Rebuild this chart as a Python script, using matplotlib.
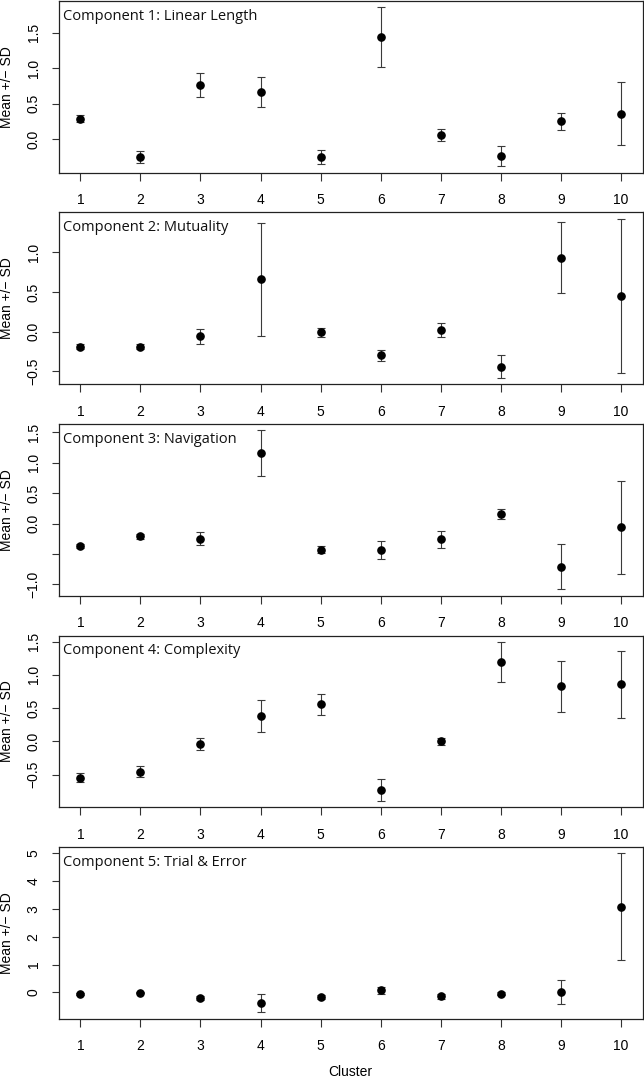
#!/usr/bin/env python3
import matplotlib

matplotlib.use("Agg")
import matplotlib.pyplot as plt

CLUSTERS = [1, 2, 3, 4, 5, 6, 7, 8, 9, 10]

TITLES = [
    "Component 1: Linear Length",
    "Component 2: Mutuality",
    "Component 3: Navigation",
    "Component 4: Complexity",
    "Component 5: Trial & Error",
]

MEAN_1 = [0.29, -0.25, 0.77, 0.67, -0.25, 1.44, 0.06, -0.24, 0.25, 0.36]
SD_1 = [0.05, 0.08, 0.17, 0.21, 0.10, 0.42, 0.08, 0.14, 0.12, 0.44]

MEAN_2 = [-0.19, -0.19, -0.06, 0.66, -0.01, -0.30, 0.02, -0.44, 0.93, 0.45]
SD_2 = [0.035, 0.03, 0.09, 0.71, 0.06, 0.07, 0.085, 0.14, 0.45, 0.97]

MEAN_3 = [-0.37, -0.21, -0.25, 1.16, -0.43, -0.44, -0.26, 0.16, -0.71, -0.06]
SD_3 = [0.035, 0.04, 0.11, 0.375, 0.06, 0.15, 0.14, 0.08, 0.37, 0.765]

MEAN_4 = [-0.545, -0.455, -0.045, 0.38, 0.555, -0.73, 0.0, 1.19, 0.825, 0.855]
SD_4 = [0.07, 0.085, 0.09, 0.245, 0.16, 0.16, 0.05, 0.305, 0.385, 0.5]

MEAN_5 = [-0.06, -0.01, -0.20, -0.39, -0.17, 0.08, -0.13, -0.04, 0.02, 3.08]
SD_5 = [0.03, 0.02, 0.07, 0.32, 0.07, 0.12, 0.09, 0.07, 0.43, 1.92]

YTICKS = [
    [0.0, 0.5, 1.0, 1.5],
    [-0.5, 0.0, 0.5, 1.0],
    [-1.0, -0.5, 0.0, 0.5, 1.0, 1.5],
    [-0.5, 0.0, 0.5, 1.0, 1.5],
    [0, 1, 2, 3, 4, 5],
]
YTICKLABELS = [
    ["0.0", "0.5", "1.0", "1.5"],
    ["\u22120.5", "0.0", "0.5", "1.0"],
    ["\u22121.0", "", "0.0", "0.5", "1.0", "1.5"],
    ["\u22120.5", "0.0", "0.5", "1.0", "1.5"],
    ["0", "1", "2", "3", "4", "5"],
]

W, H = 644, 1077
LEFT, RIGHT = 58.7, 642.7
TOP0, STEP, PH = 1.0, 211.5, 171.5

TICK_FONT = "Liberation Sans"
TITLE_FONT = ["Open Sans", "DejaVu Sans"]


def draw() -> None:
    fig = plt.figure(figsize=(W / 100, H / 100), dpi=100)
    means = [MEAN_1, MEAN_2, MEAN_3, MEAN_4, MEAN_5]
    sds = [SD_1, SD_2, SD_3, SD_4, SD_5]

    for i in range(5):
        top = TOP0 + STEP * i
        ax = fig.add_axes(
            [LEFT / W, 1 - (top + PH) / H, (RIGHT - LEFT) / W, PH / H]
        )
        ax.errorbar(
            CLUSTERS,
            means[i],
            yerr=sds[i],
            fmt="o",
            color="black",
            ecolor="#3a3a3a",
            elinewidth=0.8,
            capsize=2.6,
            capthick=0.8,
            markersize=5.2,
        )
        ax.margins(x=0.04, y=0.04)
        ax.set_xticks(CLUSTERS)
        ax.set_xticklabels([str(c) for c in CLUSTERS], fontfamily=TICK_FONT, fontsize=10)
        ax.set_yticks(YTICKS[i])
        ax.set_yticklabels(
            YTICKLABELS[i], fontfamily=TICK_FONT, fontsize=10,
            rotation=90, va="center",
        )
        ax.tick_params(axis="x", length=6, width=0.8, pad=9, color="#333333")
        ax.tick_params(axis="y", length=5, width=0.8, pad=8, color="#333333")
        for sp in ax.spines.values():
            sp.set_linewidth(0.9)
            sp.set_color("#222222")

        ax.text(
            4.5 / (RIGHT - LEFT), 1 - 8 / PH, TITLES[i],
            transform=ax.transAxes, ha="left", va="top",
            fontsize=10.5, family=TITLE_FONT, color="#111111",
        )

        fig.text(
            7 / W, 1 - (top + PH / 2) / H, "Mean +/\u2212 SD",
            rotation=90, ha="center", va="center",
            fontsize=10, fontfamily=TICK_FONT,
        )

    fig.text(
        (LEFT + RIGHT) / 2 / W, 1 - 1071.5 / H, "Cluster",
        ha="center", va="center", fontsize=10, fontfamily=TICK_FONT,
    )

    fig.savefig("out.png", dpi=100)
    plt.close(fig)


def main() -> None:
    draw()


if __name__ == "__main__":
    main()
